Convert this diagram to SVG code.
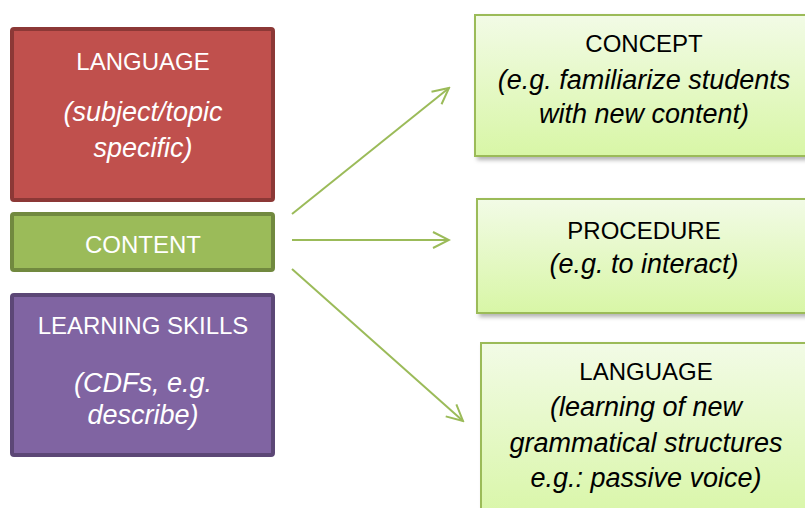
<svg xmlns="http://www.w3.org/2000/svg" width="805" height="508" viewBox="0 0 805 508">
<style>
.t{font-family:"Liberation Sans",Arial,sans-serif;font-size:24px;text-anchor:middle}
.i{font-family:"Liberation Sans",Arial,sans-serif;font-size:27px;font-style:italic;text-anchor:middle}
.w{fill:#ffffff}
.k{fill:#000000}
.cn{stroke:#9BBB59;stroke-width:2;fill:none}
.rb{fill:url(#g);stroke:#9BBB59;stroke-width:2;filter:url(#sh)}
</style>
<defs>
<linearGradient id="g" x1="0" y1="0" x2="0" y2="1">
<stop offset="0" stop-color="#F2FBE6"/>
<stop offset="1" stop-color="#D8F6A6"/>
</linearGradient>
<filter id="sh" x="-10%" y="-10%" width="130%" height="130%">
<feDropShadow dx="3" dy="3" stdDeviation="2" flood-color="#000" flood-opacity="0.3"/>
</filter>
<marker id="ah" viewBox="0 0 20 20" refX="18" refY="10" markerWidth="20" markerHeight="20" markerUnits="userSpaceOnUse" orient="auto">
<path d="M2,2 L18,10 L2,18" fill="none" stroke="#9BBB59" stroke-width="2"/>
</marker>
</defs>
<g id="language-left">
<rect x="12" y="29" width="261" height="171" rx="2" fill="#C0504D" stroke="#8C3836" stroke-width="4"/>
<text class="t w" x="143" y="70">LANGUAGE</text>
<text class="i w" x="143" y="121">(subject/topic</text>
<text class="i w" x="143" y="157">specific)</text>
</g>
<g id="content">
<rect x="12" y="214" width="261" height="56" rx="2" fill="#9BBB59" stroke="#71893F" stroke-width="4"/>
<text class="t w" x="143" y="253">CONTENT</text>
</g>
<g id="learning-skills">
<rect x="12" y="295" width="261" height="160" rx="2" fill="#8064A2" stroke="#5C4776" stroke-width="4"/>
<text class="t w" x="143" y="334">LEARNING SKILLS</text>
<text class="i w" x="143" y="392">(CDFs, e.g.</text>
<text class="i w" x="143" y="424">describe)</text>
</g>
<g id="concept">
<rect class="rb" x="475" y="15" width="345" height="141"/>
<text class="t k" x="644" y="52">CONCEPT</text>
<text class="i k" x="644" y="89">(e.g. familiarize students</text>
<text class="i k" x="644" y="123">with new content)</text>
</g>
<g id="procedure">
<rect class="rb" x="477" y="199" width="345" height="114"/>
<text class="t k" x="644" y="239">PROCEDURE</text>
<text class="i k" x="644" y="273">(e.g. to interact)</text>
</g>
<g id="language-right">
<rect class="rb" x="481" y="343" width="345" height="180"/>
<text class="t k" x="646" y="380">LANGUAGE</text>
<text class="i k" x="646" y="416">(learning of new</text>
<text class="i k" x="646" y="452">grammatical structures</text>
<text class="i k" x="646" y="487">e.g.: passive voice)</text>
</g>
<g id="connectors">
<line class="cn" x1="292" y1="214" x2="449" y2="88" marker-end="url(#ah)"/>
<line class="cn" x1="292" y1="240" x2="449" y2="240" marker-end="url(#ah)"/>
<line class="cn" x1="292" y1="269" x2="463" y2="421" marker-end="url(#ah)"/>
</g>
</svg>
